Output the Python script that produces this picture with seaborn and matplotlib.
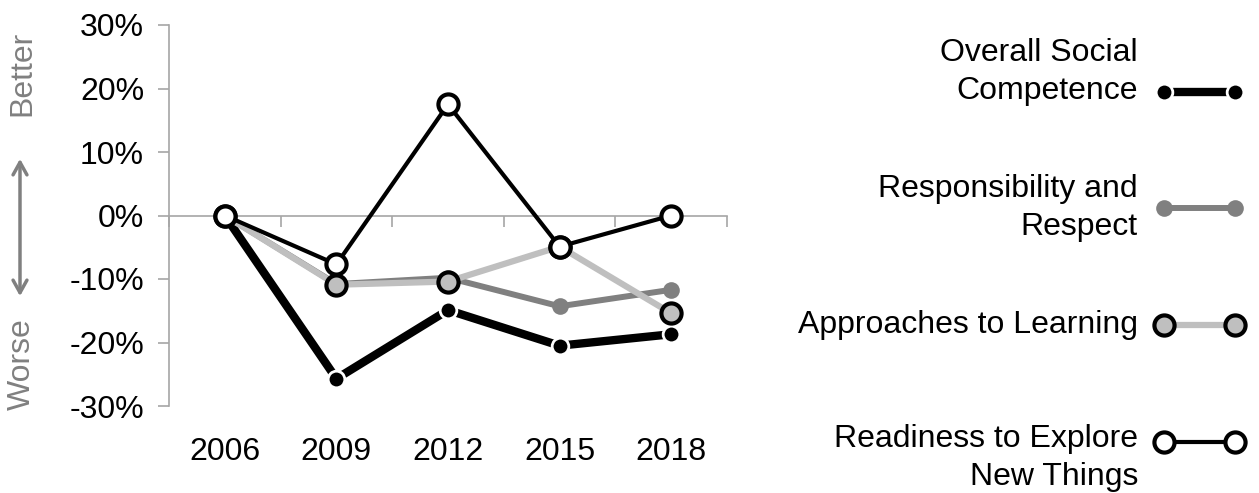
import numpy as np
import matplotlib
matplotlib.use("Agg")
import matplotlib.pyplot as plt
import seaborn as sns

# Data (percent change vs 2006)
years = ["2006", "2009", "2012", "2015", "2018"]
overall = [0.0, -25.7, -14.9, -20.5, -18.7]
responsibility = [0.0, -10.8, -9.8, -14.3, -11.7]
approaches = [0.0, -10.9, -10.4, -4.9, -15.4]
readiness = [0.0, -7.7, 17.5, -4.9, 0.0]

labels = ["Overall Social\nCompetence", "Responsibility and\nRespect",
          "Approaches to Learning", "Readiness to Explore\nNew Things"]
y_ticks = [-30, -20, -10, 0, 10, 20, 30]

sns.set_style("white")
plt.rcParams["font.family"] = ["Liberation Sans", "DejaVu Sans"]
plt.rcParams["text.color"] = "black"
plt.rcParams["xtick.color"] = "black"
plt.rcParams["ytick.color"] = "black"

FS = 23
GRAY_AX = "#a6a6a6"
styles = [
    dict(color="black", lw=6, marker="o", ms=12, mfc="black", mec="white", mew=2),
    dict(color="#808080", lw=4.3, marker="o", ms=12, mfc="#808080", mec="#808080", mew=0),
    dict(color="#bfbfbf", lw=4.5, marker="o", ms=14.5, mfc="#bfbfbf", mec="black", mew=3),
    dict(color="black", lw=3, marker="o", ms=14.5, mfc="white", mec="black", mew=3),
]
series = [overall, responsibility, approaches, readiness]

fig = plt.figure(figsize=(12.59, 4.93), dpi=100)
ax = fig.add_axes([169 / 1259, 1 - 406 / 493, (727 - 169) / 1259, (406 - 25) / 493])

xpos = np.arange(len(years))
for vals, st in zip(series, styles):
    sns.lineplot(x=xpos, y=vals, ax=ax, zorder=3, **st)

ax.set_xlim(-0.5, len(years) - 0.5)
ax.set_ylim(-30, 30)
ax.set_yticks(y_ticks)
ax.set_yticklabels([f"{v}%" for v in y_ticks], fontsize=FS)
ax.tick_params(axis="y", direction="out", length=8, color=GRAY_AX, width=1.2, pad=10,
               left=True, labelcolor="black")

# category axis crossing at zero, ticks between categories
ax.spines["bottom"].set_position(("data", 0))
ax.spines["bottom"].set_color(GRAY_AX)
ax.spines["bottom"].set_linewidth(1.2)
ax.spines["left"].set_color(GRAY_AX)
ax.spines["left"].set_linewidth(1.2)
ax.spines["top"].set_visible(False)
ax.spines["right"].set_visible(False)
ax.set_xticks(np.arange(len(years) + 1) - 0.5)
ax.set_xticklabels([])
ax.tick_params(axis="x", direction="out", length=8, color=GRAY_AX, width=1.2, bottom=True)

sec = ax.secondary_xaxis("bottom")
sec.set_xticks(xpos)
sec.set_xticklabels(years, fontsize=FS)
sec.tick_params(length=0, pad=22, labelcolor="black")
sec.spines["bottom"].set_visible(False)

# overlay for side annotations and legend, in pixel coordinates
lax = fig.add_axes([0, 0, 1, 1], zorder=-1)
lax.set_xlim(0, 1259)
lax.set_ylim(493, 0)
lax.axis("off")

lax.text(22, 73, "Better", rotation=90, ha="center", va="center", fontsize=FS, color="#808080")
lax.text(22, 364, "Worse", rotation=90, ha="center", va="center", fontsize=FS, color="#808080")
lax.annotate("", xy=(20, 156), xytext=(20, 299),
             arrowprops=dict(arrowstyle="<->,head_length=0.9,head_width=0.5", color="#808080", lw=2.5))

text_y = [72, 208, 325, 458]
handle_y = [92, 208, 325, 442]
for lab, ty, hy, st in zip(labels, text_y, handle_y, styles):
    lax.text(1138, ty, lab, ha="right", va="center", fontsize=FS, linespacing=1.33)
    lax.plot([1164, 1235], [hy, hy], **st)

fig.savefig("out.png", dpi=100)
